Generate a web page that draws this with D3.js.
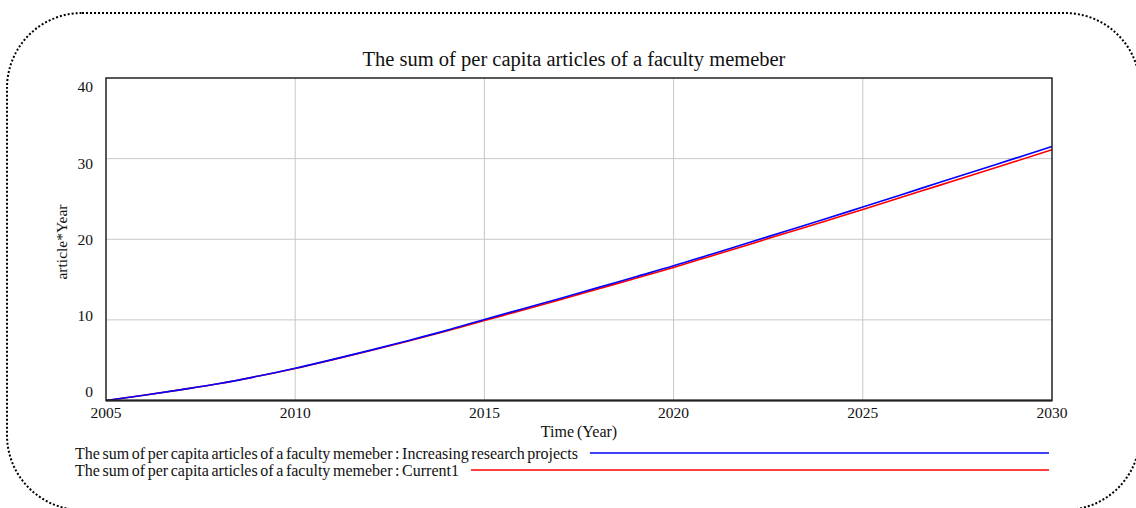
<!DOCTYPE html>
<html>
<head>
<meta charset="utf-8">
<script src="https://cdn.jsdelivr.net/npm/d3@7/dist/d3.min.js"></script>
<style>
  html, body { margin: 0; padding: 0; background: #fff; }
  svg { display: block; }
  text { font-family: "Liberation Serif", "Times New Roman", serif; fill: #111; }
</style>
</head>
<body>
<svg id="chart" width="1136" height="508"></svg>
<script>
// ---- data ----
const title = "The sum of per capita articles of a faculty memeber";
const years = [2005, 2006, 2007, 2008, 2009, 2010, 2011, 2012, 2013, 2014, 2015, 2016, 2017,
               2018, 2019, 2020, 2021, 2022, 2023, 2024, 2025, 2026, 2027, 2028, 2029, 2030];
const increasingResearch = [0, 0.65, 1.35, 2.1, 3.0, 4.0, 5.1, 6.25, 7.45, 8.7, 10.05, 11.35, 12.65,
               14.0, 15.35, 16.7, 18.15, 19.6, 21.05, 22.5, 24.0, 25.5, 27.0, 28.5, 30.0, 31.5];
const current1 = [0, 0.65, 1.35, 2.1, 3.0, 3.98, 5.07, 6.2, 7.38, 8.62, 9.92, 11.2, 12.5,
               13.83, 15.15, 16.5, 17.93, 19.36, 20.8, 22.23, 23.7, 25.17, 26.65, 28.12, 29.6, 31.1];
const xTicks = [2005, 2010, 2015, 2020, 2025, 2030];
const yTicks = [0, 10, 20, 30, 40];
const seriesNames = [
  "The sum of per capita articles of a faculty memeber : Increasing research projects",
  "The sum of per capita articles of a faculty memeber : Current1"
];
const seriesColors = ["#0000ff", "#ff0000"];
const xLabel = "Time (Year)";
const yLabel = "article*Year";

// ---- layout ----
const svg = d3.select("#chart");
const L = 106, R = 1052, T = 78, B = 400.5;
const x = d3.scaleLinear().domain([2005, 2030]).range([L, R]);
const y = d3.scaleLinear().domain([0, 40]).range([B, T]);
const yLab = d3.scaleLinear().domain([0, 40]).range([392, 87]);

// dotted rounded frame
svg.append("rect")
  .attr("x", 7).attr("y", 13).attr("width", 1133).attr("height", 497)
  .attr("rx", 75).attr("ry", 75)
  .attr("fill", "none").attr("stroke", "#000")
  .attr("stroke-width", 2).attr("stroke-dasharray", "2 2");

// title
svg.append("text").attr("x", 574).attr("y", 66)
  .attr("text-anchor", "middle").style("font-size", "20.5px").text(title);

// grid
const g = svg.append("g");
g.selectAll(".vg").data(xTicks.slice(1, -1)).enter().append("line")
  .attr("x1", d => x(d)).attr("x2", d => x(d)).attr("y1", T).attr("y2", B)
  .attr("stroke", "#c8c8c8").attr("stroke-width", 1);
g.selectAll(".hg").data(yTicks.slice(1, -1)).enter().append("line")
  .attr("x1", L).attr("x2", R).attr("y1", d => y(d)).attr("y2", d => y(d))
  .attr("stroke", "#c8c8c8").attr("stroke-width", 1);

// lines
const line = d3.line().x((d, i) => x(years[i])).y(d => y(d)).curve(d3.curveMonotoneX);
[current1, increasingResearch].forEach((s, k) => {
  svg.append("path").datum(s).attr("d", line)
    .attr("fill", "none").attr("stroke", k === 0 ? seriesColors[1] : seriesColors[0])
    .attr("stroke-width", 1.6);
});

// frame
svg.append("rect").attr("x", L).attr("y", T).attr("width", R - L).attr("height", B - T)
  .attr("fill", "none").attr("stroke", "#222").attr("stroke-width", 1.5);
svg.append("line").attr("x1", L).attr("x2", R).attr("y1", B).attr("y2", B)
  .attr("stroke", "#222").attr("stroke-width", 2.2);

// x tick labels
svg.selectAll(".xt").data(xTicks).enter().append("text")
  .attr("x", d => x(d)).attr("y", 418).attr("text-anchor", "middle")
  .style("font-size", "15.5px").text(d => d);

// y tick labels
svg.selectAll(".yt").data(yTicks).enter().append("text")
  .attr("x", 93).attr("y", d => yLab(d)).attr("dy", "0.35em").attr("text-anchor", "end")
  .style("font-size", "15.5px").text(d => d);

// axis titles
svg.append("text").attr("x", 579).attr("y", 437).attr("text-anchor", "middle")
  .style("font-size", "16px").style("word-spacing", "-1px").text(xLabel);
svg.append("text").attr("transform", "translate(67,242) rotate(-90)")
  .attr("text-anchor", "middle").style("font-size", "15.5px").text(yLabel);

// legend
const legY = [453, 470];
seriesNames.forEach((n, i) => {
  const t = svg.append("text").attr("x", 75).attr("y", legY[i]).attr("dy", "0.35em")
    .style("font-size", "16px").style("word-spacing", "-1.4px").text(n);
  const w = t.node().getComputedTextLength();
  svg.append("line").attr("x1", 75 + w + 12).attr("x2", 1049)
    .attr("y1", legY[i]).attr("y2", legY[i])
    .attr("stroke", seriesColors[i]).attr("stroke-width", 1.4);
});
</script>
</body>
</html>
